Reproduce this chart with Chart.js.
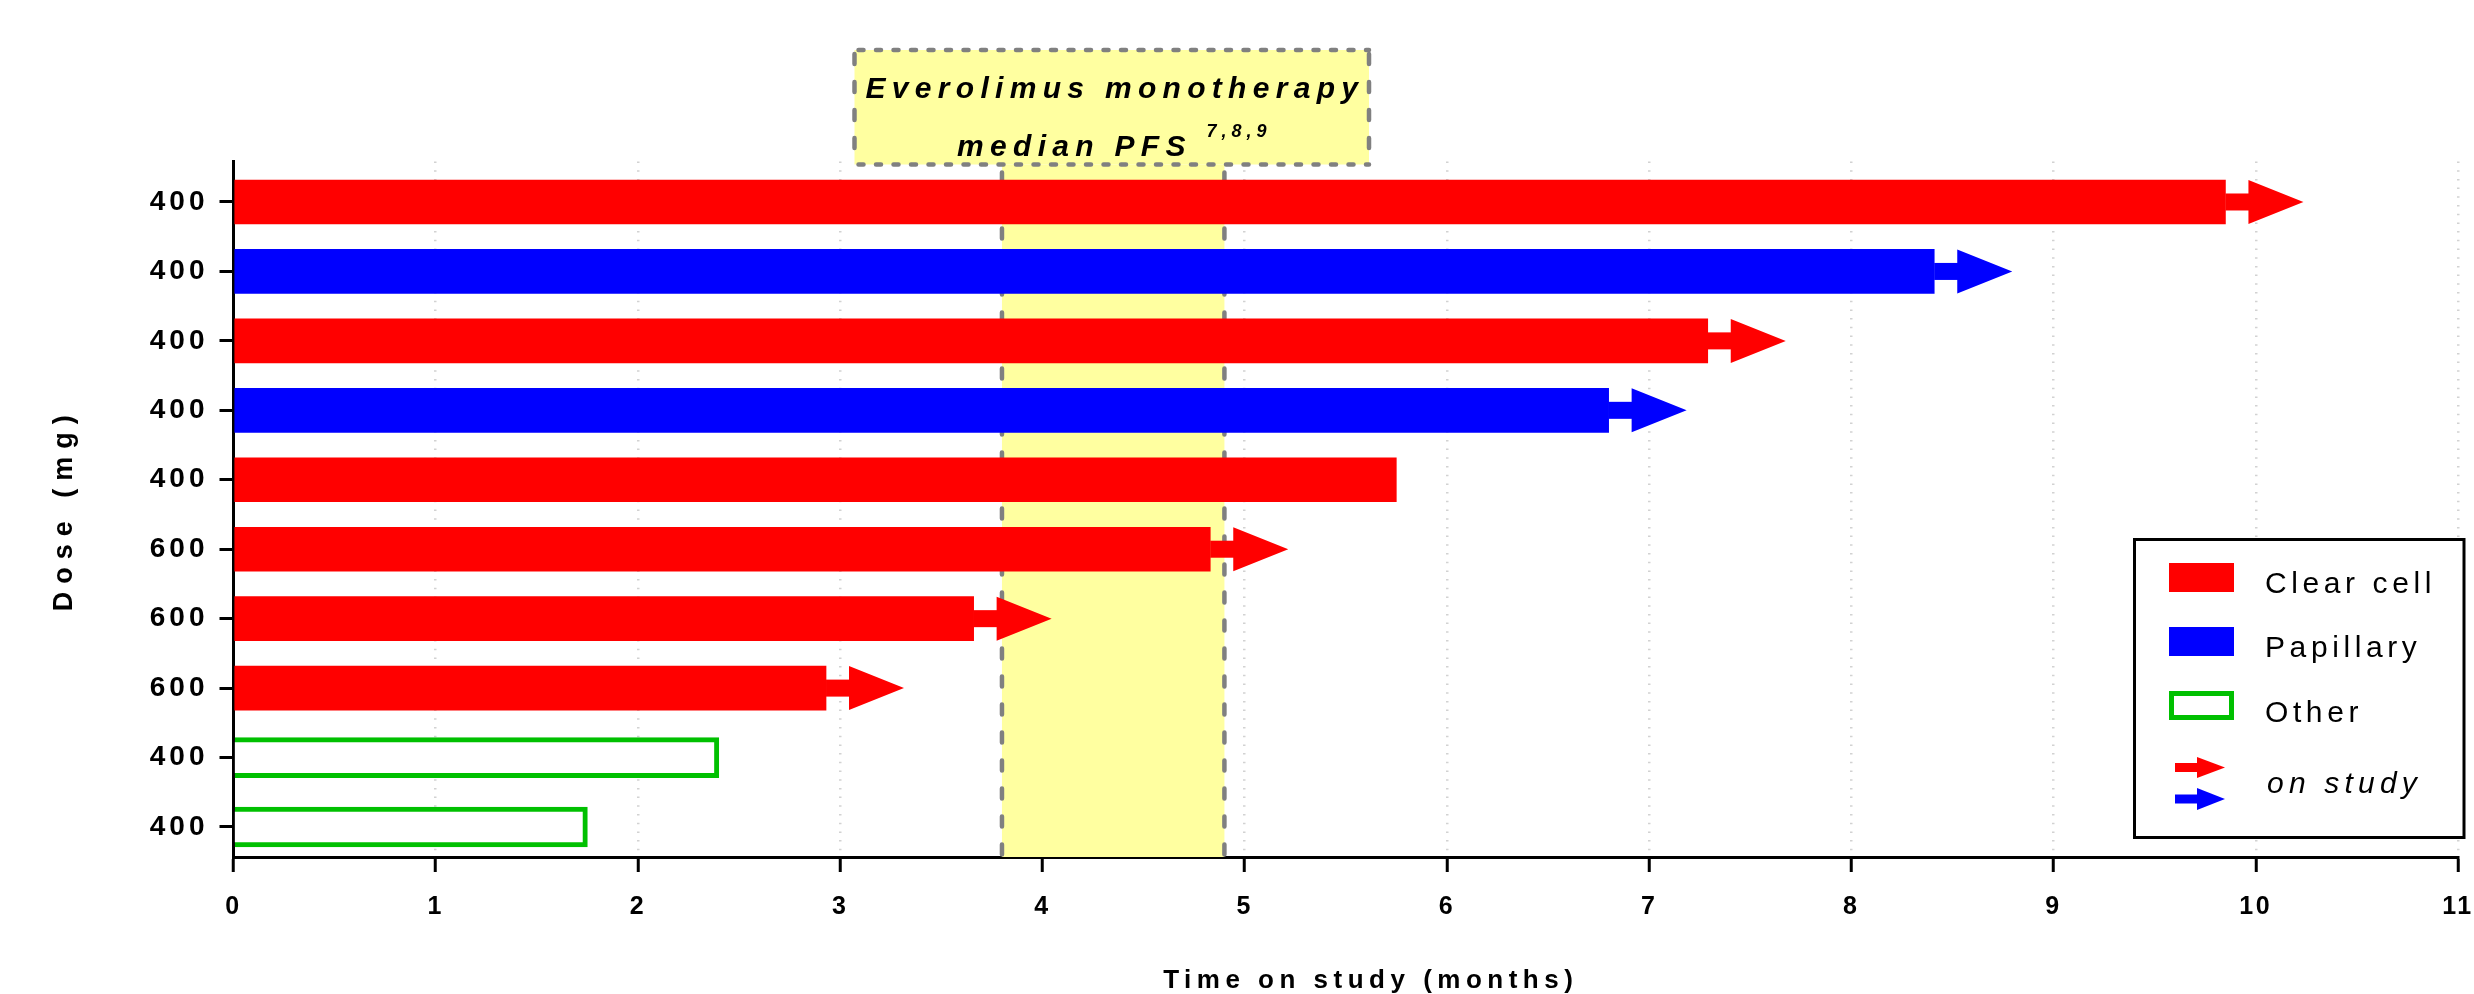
<!DOCTYPE html>
<html>
<head>
<meta charset="utf-8">
<script src="https://cdn.jsdelivr.net/npm/chart.js@4.4.1/dist/chart.umd.min.js"></script>
<style>
  html, body { margin: 0; padding: 0; background: #fff; }
  canvas { display: block; }
</style>
</head>
<body>
<canvas id="swimmer" width="2474" height="994"></canvas>
<script>
// One row per patient, top row first
const doseLabels     = ['400', '400', '400', '400', '400', '600', '600', '600', '400', '400'];
const histology      = ['Clear cell', 'Papillary', 'Clear cell', 'Papillary', 'Clear cell',
                        'Clear cell', 'Clear cell', 'Clear cell', 'Other', 'Other'];
const monthsOnStudy  = [9.85, 8.41, 7.29, 6.80, 5.75, 4.83, 3.66, 2.93, 2.40, 1.75];
const stillOnStudy   = [true, true, true, true, false, true, true, true, false, false];
const histologyTypes = ['Clear cell', 'Papillary', 'Other'];
const monthTicks     = [0, 1, 2, 3, 4, 5, 6, 7, 8, 9, 10, 11];
const pfsRange       = [3.8, 4.9];   // everolimus monotherapy median PFS, months
const pfsTitle       = ['Everolimus monotherapy', 'median PFS', '7,8,9'];

const COLORS = { 'Clear cell': '#ff0000', 'Papillary': '#0000ff', 'Other': '#00c000' };
const FONT = "'Liberation Sans', Arial, Helvetica, sans-serif";
const BAND_FILL = '#ffffa0';
const DASH_GREY = '#808080';
const NOTE_BOX = { left: 854.5, right: 1369, top: 50, bottom: 164.5 };
const LEGEND_BOX = { left: 2134.5, right: 2464, top: 539.5, bottom: 837.5 };
const ARROW = { stem: 23, stemHeight: 17, head: 55 };

const datasets = histologyTypes.map(type => {
  const outline = type === 'Other';
  return {
    label: type,
    data: monthsOnStudy
      .map((m, i) => (histology[i] === type ? { x: m, y: i + 1, row: i } : null))
      .filter(Boolean),
    backgroundColor: outline ? '#ffffff' : COLORS[type],
    borderColor: COLORS[type],
    borderWidth: outline ? 5 : 0,
    borderSkipped: 'start',
    barThickness: outline ? 40 : 44,
    grouped: false
  };
});

// Per-axis letter spacing (and title nudge) for tick labels and titles
const axisText = {
  x: { ticks: '2.5px', title: '5.5px', titleShift: [25, 0] },
  y: { ticks: '4px', title: '8px', titleShift: [0, 0] }
};
const spacedAxisText = {
  id: 'spacedAxisText',
  beforeDraw(chart) {
    Object.keys(axisText).forEach(id => {
      const s = chart.scales[id];
      if (!s || s.__spaced) return;
      const sp = axisText[id];
      const drawLabels = s.drawLabels.bind(s);
      const drawTitle = s.drawTitle.bind(s);
      s.drawLabels = (area) => {
        const c = s.ctx; c.save(); c.letterSpacing = sp.ticks; drawLabels(area); c.restore();
      };
      s.drawTitle = () => {
        const c = s.ctx; c.save(); c.letterSpacing = sp.title;
        c.translate(sp.titleShift[0], sp.titleShift[1]);
        drawTitle(); c.restore();
      };
      s.__spaced = true;
    });
  }
};

function dashedLine(ctx, x0, y0, x1, y1, dash) {
  ctx.save();
  ctx.strokeStyle = DASH_GREY;
  ctx.lineWidth = 4.5;
  ctx.lineCap = 'round';
  ctx.setLineDash(dash);
  ctx.beginPath();
  ctx.moveTo(x0, y0);
  ctx.lineTo(x1, y1);
  ctx.stroke();
  ctx.restore();
}

// Shaded PFS band behind the bars
const pfsBand = {
  id: 'pfsBand',
  beforeDatasetsDraw(chart) {
    const { ctx, chartArea, scales: { x } } = chart;
    const x0 = x.getPixelForValue(pfsRange[0]);
    const x1 = x.getPixelForValue(pfsRange[1]);
    ctx.save();
    ctx.fillStyle = BAND_FILL;
    ctx.fillRect(x0, NOTE_BOX.bottom, x1 - x0, chartArea.bottom - NOTE_BOX.bottom);
    ctx.restore();
    dashedLine(ctx, x0, NOTE_BOX.bottom + 8, x0, chartArea.bottom - 2, [10, 18]);
    dashedLine(ctx, x1, NOTE_BOX.bottom + 8, x1, chartArea.bottom - 2, [10, 18]);
  }
};

function drawArrow(ctx, x, y, h, color, stem, stemH, head) {
  ctx.save();
  ctx.fillStyle = color;
  ctx.fillRect(x, y - stemH / 2, stem + 1, stemH);
  ctx.beginPath();
  ctx.moveTo(x + stem, y - h / 2);
  ctx.lineTo(x + stem + head, y);
  ctx.lineTo(x + stem, y + h / 2);
  ctx.closePath();
  ctx.fill();
  ctx.restore();
}

// Arrows on patients still on study
const onStudyArrows = {
  id: 'onStudyArrows',
  afterDatasetsDraw(chart) {
    const { ctx } = chart;
    chart.data.datasets.forEach((ds, di) => {
      const meta = chart.getDatasetMeta(di);
      ds.data.forEach((pt, j) => {
        if (!stillOnStudy[pt.row]) return;
        const bar = meta.data[j];
        const { x, y, height } = bar.getProps(['x', 'y', 'height'], true);
        drawArrow(ctx, x, y, height, ds.borderColor, ARROW.stem, ARROW.stemHeight, ARROW.head);
      });
    });
  }
};

function spacedText(ctx, text, x, y, font, spacing, align) {
  ctx.save();
  ctx.font = font;
  ctx.letterSpacing = spacing + 'px';
  ctx.textBaseline = 'alphabetic';
  ctx.textAlign = 'left';
  const w = ctx.measureText(text).width - spacing;
  const left = align === 'center' ? x - w / 2 : x;
  ctx.fillText(text, left, y);
  ctx.restore();
  return w;
}

// Note box above the band
const pfsNote = {
  id: 'pfsNote',
  afterDraw(chart) {
    const { ctx } = chart;
    const b = NOTE_BOX;
    ctx.save();
    ctx.fillStyle = BAND_FILL;
    ctx.fillRect(b.left, b.top, b.right - b.left, b.bottom - b.top);
    ctx.restore();
    dashedLine(ctx, b.left + 4, b.top, b.right, b.top, [5, 12.5]);
    dashedLine(ctx, b.left + 4, b.bottom, b.right, b.bottom, [5, 12.5]);
    dashedLine(ctx, b.left, b.top + 4, b.left, b.bottom, [10, 18]);
    dashedLine(ctx, b.right, b.top + 4, b.right, b.bottom, [10, 18]);

    const cx = (b.left + b.right) / 2;
    ctx.fillStyle = '#000';
    const mainFont = `italic bold 30px ${FONT}`;
    const supFont = `italic bold 18px ${FONT}`;
    spacedText(ctx, pfsTitle[0], cx, 98, mainFont, 6.3, 'center');

    ctx.save();
    ctx.font = mainFont; ctx.letterSpacing = '6.3px';
    const w1 = ctx.measureText(pfsTitle[1] + ' ').width;
    ctx.font = supFont; ctx.letterSpacing = '5px';
    const w2 = ctx.measureText(pfsTitle[2]).width - 5;
    ctx.restore();
    const start = cx - (w1 + w2) / 2;
    spacedText(ctx, pfsTitle[1], start, 156, mainFont, 6.3, 'left');
    spacedText(ctx, pfsTitle[2], start + w1, 137, supFont, 5, 'left');
  }
};

// Legend panel with swatches and on-study arrows
const legendPanel = {
  id: 'legendPanel',
  afterDraw(chart) {
    const { ctx } = chart;
    const b = LEGEND_BOX;
    ctx.save();
    ctx.fillStyle = '#fff';
    ctx.fillRect(b.left, b.top, b.right - b.left, b.bottom - b.top);
    ctx.strokeStyle = '#000';
    ctx.lineWidth = 3;
    ctx.strokeRect(b.left, b.top, b.right - b.left, b.bottom - b.top);

    const rows = [
      { type: 'Clear cell', top: 563, base: 593 },
      { type: 'Papillary', top: 627, base: 657 },
      { type: 'Other', top: 691, base: 721.5 }
    ];
    rows.forEach(r => {
      const color = COLORS[r.type];
      ctx.fillStyle = color;
      ctx.fillRect(2169, r.top, 65, 29);
      if (r.type === 'Other') {
        ctx.fillStyle = '#fff';
        ctx.fillRect(2169 + 5, r.top + 5, 65 - 10, 29 - 10);
      }
      ctx.fillStyle = '#000';
      spacedText(ctx, r.type, 2265, r.base, `30px ${FONT}`, 4.6, 'left');
    });
    drawArrow(ctx, 2175, 767.5, 21, COLORS['Clear cell'], 22, 9, 28);
    drawArrow(ctx, 2175, 799, 22, COLORS['Papillary'], 22, 9, 28);
    ctx.fillStyle = '#000';
    spacedText(ctx, 'on study', 2267, 793, `italic 30px ${FONT}`, 5.2, 'left');
    ctx.restore();
  }
};

new Chart(document.getElementById('swimmer'), {
  type: 'bar',
  data: { datasets },
  options: {
    indexAxis: 'y',
    responsive: false,
    animation: false,
    devicePixelRatio: 1,
    layout: { padding: { left: 0, right: 16, top: 161.5, bottom: 0 } },
    plugins: { legend: { display: false }, tooltip: { enabled: false } },
    scales: {
      x: {
        type: 'linear',
        position: 'bottom',
        min: 0,
        max: 11,
        offset: false,
        afterBuildTicks: s => { s.ticks = monthTicks.map(v => ({ value: v })); },
        afterFit: s => { s.height = 137; s.paddingLeft = 0; s.paddingRight = 0; },
        grid: {
          offset: false,
          color: '#d2d2d2',
          lineWidth: 2.5,
          tickColor: '#000',
          tickWidth: 3,
          tickLength: 15
        },
        border: { display: true, color: '#000', width: 3, dash: [1.5, 7.2] },
        ticks: {
          autoSkip: false,
          maxRotation: 0,
          color: '#000',
          padding: 20,
          font: { family: FONT, size: 25, weight: 'bold', lineHeight: 1.2 }
        },
        title: {
          display: true,
          text: 'Time on study (months)',
          color: '#000',
          padding: { top: 0, bottom: 0.5 },
          font: { family: FONT, size: 26, weight: 'bold', lineHeight: 1 }
        }
      },
      y: {
        type: 'linear',
        reverse: true,
        offset: false,
        min: 0.417,
        max: 10.432,
        afterBuildTicks: s => { s.ticks = doseLabels.map((_, i) => ({ value: i + 1 })); },
        afterFit: s => { s.width = 233.5; s.paddingTop = 0; s.paddingBottom = 0; },
        grid: {
          offset: false,
          drawOnChartArea: false,
          color: '#000',
          tickColor: '#000',
          tickWidth: 3,
          tickLength: 14
        },
        border: { display: true, color: '#000', width: 3 },
        ticks: {
          autoSkip: false,
          color: '#000',
          padding: 11,
          font: { family: FONT, size: 28, weight: 'bold', lineHeight: 1.2 },
          callback: v => doseLabels[Math.round(v) - 1]
        },
        title: {
          display: true,
          text: 'Dose (mg)',
          color: '#000',
          padding: { top: 51, bottom: 0 },
          font: { family: FONT, size: 27, weight: 'bold', lineHeight: 1 }
        }
      }
    }
  },
  plugins: [spacedAxisText, pfsBand, onStudyArrows, pfsNote, legendPanel]
});
</script>
</body>
</html>
